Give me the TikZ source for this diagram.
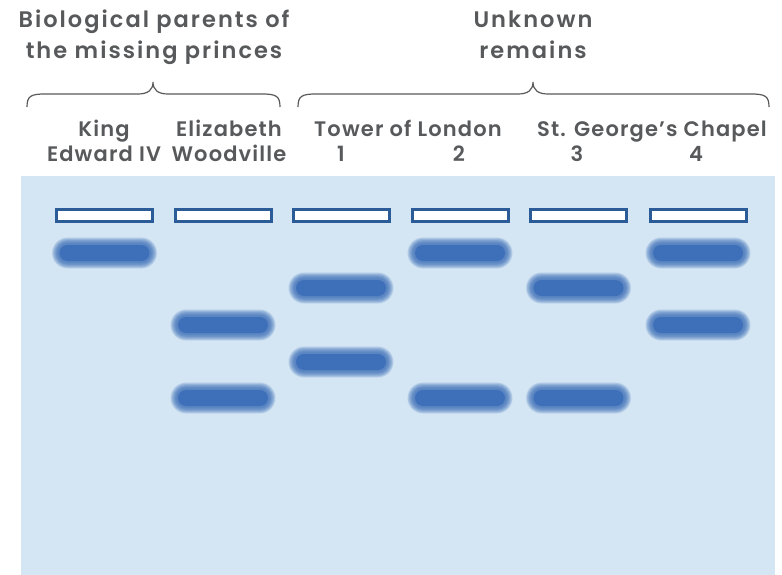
\documentclass[tikz,border=0pt]{standalone}
\usepackage{fontspec}
\newfontfamily\headfont{Poppins SemiBold}[LetterSpace=9]
\newfontfamily\lanefont{Poppins SemiBold}[LetterSpace=5.5]
\definecolor{gel}{HTML}{D4E6F4}
\definecolor{wellblue}{HTML}{2B5C97}
\definecolor{bandblue}{HTML}{3E70B9}
\definecolor{inkgray}{HTML}{58595B}
\tikzset{
  well/.style={draw=wellblue, line width=3pt, fill=white, minimum width=96pt, minimum height=12pt, inner sep=0pt},
  head/.style={text=inkgray, font=\headfont\fontsize{22.5pt}{30pt}\selectfont, anchor=base, inner sep=0pt},
  lane/.style={text=inkgray, font=\lanefont\fontsize{21pt}{26pt}\selectfont, anchor=base, inner sep=0pt},
  bracket/.style={draw=inkgray, line width=1.2pt}
}
% soft gel band: stacked translucent layers around a solid core
\newcommand\gelband[3]{%
  \foreach \k in {12,11,...,1}{%
    \fill[bandblue, opacity=0.12, rounded corners={(9+0.55*\k)*1pt}]
      ({#1-46-0.55*\k},{#2-9-0.55*\k}) rectangle ({#1+46+0.55*\k},{#2+9+0.55*\k});
  }%
  \node[fill=bandblue, rounded corners=8pt, minimum width=90pt, minimum height=16pt, inner sep=0pt] (#3) at (#1,#2) {};
}
\begin{document}
\begin{tikzpicture}[x=1pt,y=-1pt]
\useasboundingbox (0,0) rectangle (782,575);
\fill[gel] (21,176) rectangle (775,575);

% group headings
\node[head] (h1a) at (154,28) {Biological parents of};
\node[head] (h1b) at (154,59) {the missing princes};
\node[head] (h2a) at (533,28) {Unknown};
\node[head] (h2b) at (533,59) {remains};

% braces
\draw[bracket] (27,107) .. controls (27,96) and (31,94) .. (45,94) -- (138,94)
  .. controls (148,94) and (153,90) .. (153,82)
  .. controls (153,90) and (158,94) .. (168,94) -- (262,94)
  .. controls (276,94) and (280,96) .. (280,107);
\draw[bracket] (298,107) .. controls (298,96) and (302,94) .. (316,94) -- (518,94)
  .. controls (528,94) and (533,90) .. (533,82)
  .. controls (533,90) and (538,94) .. (548,94) -- (751,94)
  .. controls (765,94) and (769,96) .. (769,107);

% lane labels
\node[lane] (l1a) at (104,137) {King};
\node[lane] (l1b) at (104,162) {Edward IV};
\node[lane] (l2a) at (229,137) {Elizabeth};
\node[lane] (l2b) at (229,162) {Woodville};
\node[lane] (l34) at (408,137) {Tower of London};
\node[lane] (l3) at (341,162) {1};
\node[lane] (l4) at (459,162) {2};
\node[lane] (l56) at (652,137) {St. George’s Chapel};
\node[lane] (l5) at (577,162) {3};
\node[lane] (l6) at (696,162) {4};

% wells
\node[well] (w1) at (104.5,215) {};
\node[well] (w2) at (223,215) {};
\node[well] (w3) at (341,215) {};
\node[well] (w4) at (460,215) {};
\node[well] (w5) at (578.5,215) {};
\node[well] (w6) at (698,215) {};

% bands
\gelband{104.5}{253}{b1a}
\gelband{223}{325}{b2a}
\gelband{223}{398}{b2b}
\gelband{341}{288}{b3a}
\gelband{341}{362}{b3b}
\gelband{460}{253}{b4a}
\gelband{460}{398}{b4b}
\gelband{578.5}{288}{b5a}
\gelband{578.5}{398}{b5b}
\gelband{698}{253}{b6a}
\gelband{698}{325}{b6b}
\end{tikzpicture}
\end{document}
